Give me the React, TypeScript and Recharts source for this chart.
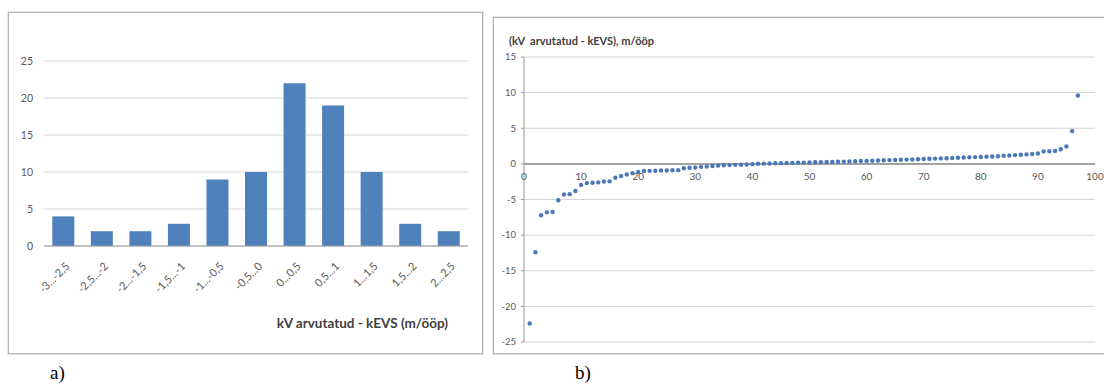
import React from 'react';
import {
  BarChart, Bar, XAxis, YAxis, CartesianGrid,
  ScatterChart, Scatter, ReferenceLine, ReferenceDot,
} from 'recharts';

// ---- Panel a) histogram ----
const bins = ['-3...-2,5', '-2,5...-2', '-2...-1,5', '-1,5...-1', '-1...-0,5', '-0,5...0', '0...0,5', '0,5...1', '1...1,5', '1,5...2', '2...2,5'];
const counts = [4, 2, 2, 3, 9, 10, 22, 19, 10, 3, 2];
const histTicks = [0, 5, 10, 15, 20, 25];

// ---- Panel b) sorted differences ----
const diffs = [
  -22.4, -12.4, -7.2, -6.8, -6.75, -5.1, -4.3, -4.25, -3.8, -2.95,
  -2.7, -2.65, -2.6, -2.48, -2.45, -1.95, -1.7, -1.5, -1.3, -1.15,
  -1.0, -0.98, -0.96, -0.94, -0.92, -0.9, -0.88, -0.62, -0.55, -0.5,
  -0.42, -0.36, -0.3, -0.24, -0.2, -0.17, -0.14, -0.11, -0.08, -0.04,
  0.01, 0.03, 0.05, 0.08, 0.1, 0.12, 0.14, 0.16, 0.18, 0.2,
  0.22, 0.24, 0.26, 0.28, 0.3, 0.32, 0.34, 0.37, 0.4, 0.42,
  0.44, 0.47, 0.51, 0.53, 0.55, 0.57, 0.6, 0.62, 0.65, 0.68,
  0.71, 0.74, 0.77, 0.8, 0.83, 0.86, 0.89, 0.92, 0.95, 0.97,
  0.99, 1.03, 1.08, 1.13, 1.18, 1.23, 1.28, 1.33, 1.39, 1.45,
  1.75, 1.78, 1.82, 2.05, 2.45, 4.6, 9.6,
];
const scatterXTicks = [0, 10, 20, 30, 40, 50, 60, 70, 80, 90, 100];
const scatterYTicks = [-25, -20, -15, -10, -5, 0, 5, 10, 15];

const histData = bins.map((bin, i) => ({ bin, count: counts[i] }));
const scatterData = diffs.map((y, i) => ({ x: i + 1, y }));

const FONT = 'Lato, "Open Sans", "Liberation Sans", sans-serif';
const GREY_TEXT = '#595959';

const RotatedTick = (props: any) => {
  const { x, y, payload } = props;
  return (
    <g transform={`translate(${x + 7},${y + 13})`}>
      <text
        x={0}
        y={0}
        textAnchor="end"
        transform="rotate(-45)"
        fontSize={11}
        fill={GREY_TEXT}
        fontFamily={FONT}
      >
        {payload.value}
      </text>
    </g>
  );
};

const Dot = (p: any) => <circle cx={p.cx} cy={p.cy} r={2.2} fill="#4a78b8" />;

export default function App() {
  return (
    <div style={{ position: 'absolute', left: 0, top: 0, width: 1104, height: 388, background: '#fff', overflow: 'hidden' }}>
      {/* frames */}
      <div style={{ position: 'absolute', left: 8, top: 12, width: 473, height: 340, border: '1px solid #b4b4b4', boxShadow: '0 0 0 1px #e6e6e6' }} />
      <div style={{ position: 'absolute', left: 493, top: 17, width: 620, height: 335, border: '1px solid #b4b4b4', boxShadow: '0 0 0 1px #e6e6e6' }} />

      {/* a) histogram */}
      <div style={{ position: 'absolute', left: 0, top: 0 }}>
        <BarChart
          width={483}
          height={354}
          data={histData}
          margin={{ top: 61, right: 15, left: 14, bottom: 48 }}
          barCategoryGap="21.5%"
        >
          <CartesianGrid vertical={false} stroke="#d4d4d4" />
          <XAxis
            dataKey="bin"
            interval={0}
            tickLine={false}
            axisLine={{ stroke: '#9a9a9a' }}
            height={60}
            tick={<RotatedTick />}
          />
          <YAxis
            domain={[0, 25]}
            ticks={histTicks}
            width={30}
            axisLine={false}
            tickLine={false}
            tickSize={0}
            tickMargin={11}
            tick={{ fontSize: 10.5, fill: GREY_TEXT, fontFamily: FONT }}
          />
          <Bar dataKey="count" fill="#4f81bd" isAnimationActive={false} />
        </BarChart>
      </div>
      <div style={{ position: 'absolute', left: 0, width: 448, top: 315, textAlign: 'right', fontFamily: FONT, fontWeight: 700, fontSize: 13.5, color: '#404040' }}>
        kV arvutatud - kEVS (m/ööp)
      </div>

      {/* b) scatter */}
      <div style={{ position: 'absolute', left: 0, top: 0 }}>
        <ScatterChart
          width={1104}
          height={354}
          margin={{ top: 57, right: 9, left: 494, bottom: 12 }}
        >
          <CartesianGrid vertical={false} stroke="#d4d4d4" />
          <XAxis type="number" dataKey="x" domain={[0, 100]} ticks={scatterXTicks} hide />
          <YAxis
            type="number"
            dataKey="y"
            domain={[-25, 15]}
            ticks={scatterYTicks}
            width={30}
            axisLine={{ stroke: '#9a9a9a' }}
            tickLine={{ stroke: '#9a9a9a' }}
            tickSize={3}
            tickMargin={5}
            tick={{ fontSize: 9.5, fill: GREY_TEXT, fontFamily: FONT }}
          />
          <ReferenceLine y={0} stroke="#8a8a8a" strokeWidth={1.5} />
          {scatterXTicks.map((t) => (
            <ReferenceDot
              key={t}
              x={t}
              y={0}
              r={0}
              fill="none"
              stroke="none"
              ifOverflow="visible"
              label={{ value: String(t), position: 'bottom', offset: 9, fontSize: 10, fill: GREY_TEXT, fontFamily: FONT }}
            />
          ))}
          <Scatter data={scatterData} shape={Dot} isAnimationActive={false} />
        </ScatterChart>
      </div>
      <div style={{ position: 'absolute', left: 509, top: 34, fontFamily: FONT, fontWeight: 700, fontSize: 11, color: '#404040', whiteSpace: 'pre' }}>
        {'(kV  arvutatud - kEVS), m/ööp'}
      </div>

      {/* panel letters */}
      <div style={{ position: 'absolute', left: 50, top: 362, fontFamily: '"Liberation Serif", "DejaVu Serif", serif', fontSize: 19, color: '#000' }}>a)</div>
      <div style={{ position: 'absolute', left: 575, top: 362, fontFamily: '"Liberation Serif", "DejaVu Serif", serif', fontSize: 19, color: '#000' }}>b)</div>
    </div>
  );
}
